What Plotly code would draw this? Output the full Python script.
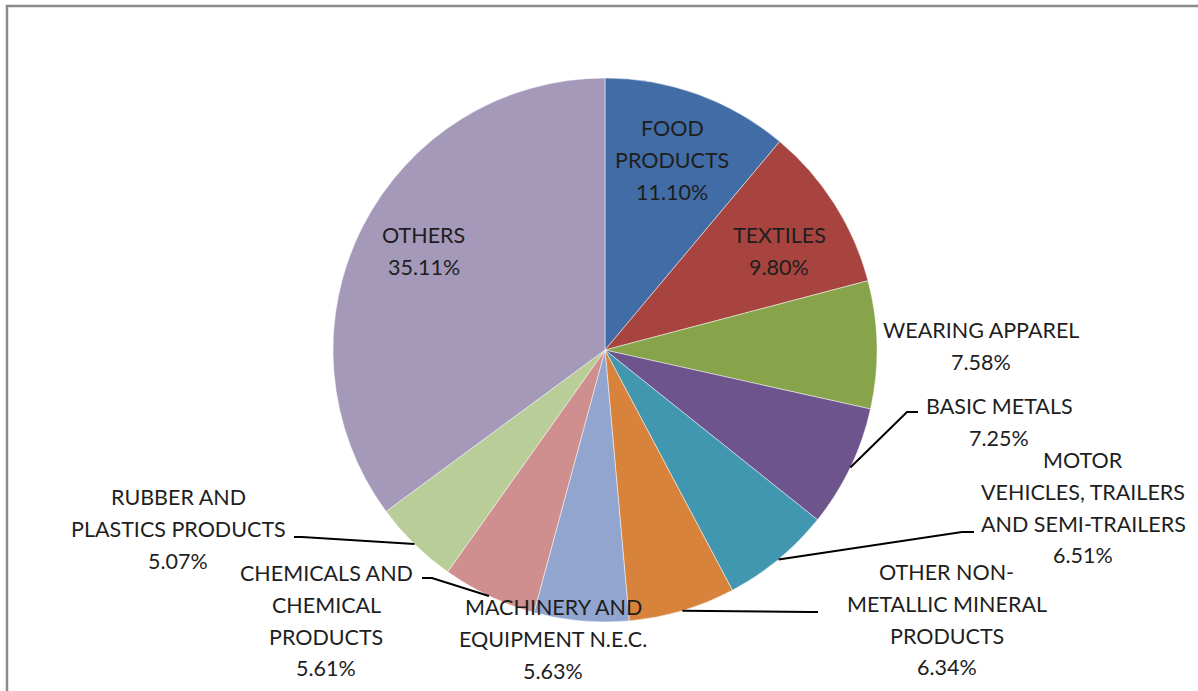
import math
import plotly.graph_objects as go

# ---- data ----
categories = [
    "FOOD PRODUCTS", "TEXTILES", "WEARING APPAREL", "BASIC METALS",
    "MOTOR VEHICLES, TRAILERS AND SEMI-TRAILERS",
    "OTHER NON-METALLIC MINERAL PRODUCTS",
    "MACHINERY AND EQUIPMENT N.E.C.",
    "CHEMICALS AND CHEMICAL PRODUCTS",
    "RUBBER AND PLASTICS PRODUCTS", "OTHERS",
]
shares = [11.10, 9.80, 7.58, 7.25, 6.51, 6.34, 5.63, 5.61, 5.07, 35.11]
label_lines = [
    ["FOOD", "PRODUCTS"],
    ["TEXTILES"],
    ["WEARING APPAREL"],
    ["BASIC METALS"],
    ["MOTOR", "VEHICLES, TRAILERS", "AND SEMI-TRAILERS"],
    ["OTHER NON-", "METALLIC MINERAL", "PRODUCTS"],
    ["MACHINERY AND", "EQUIPMENT N.E.C."],
    ["CHEMICALS AND", "CHEMICAL", "PRODUCTS"],
    ["RUBBER AND", "PLASTICS PRODUCTS"],
    ["OTHERS"],
]
colors = ["#416CA6", "#A7443F", "#87A44B", "#6E548D", "#4197B0",
          "#D8833B", "#91A5CE", "#CE8F8E", "#B8CD97", "#A599BA"]

# ---- layout (pixels) ----
W, H = 1198, 691
CX, CY, R = 605, 350, 272
LINE_H = 31.8
# label block: (center x, first-line center y)
label_pos = [
    (672, 128), (779, 235), (981, 330), (999, 406), (1083, 460),
    (947, 572), (553, 607), (326, 573), (178, 497), (424, 235),
]
# leader lines: pixel points from label side (pie-edge point is added from data)
leaders = {
    3: [(918, 412), (907, 412)],
    4: [(974, 532), (962, 532)],
    5: [(818, 612), (810, 612)],
    7: [(422, 578), (432, 578)],
    8: [(294, 537), (302, 537)],
}


def px(x):
    return x / W


def py(y):
    return 1 - y / H


fig = go.Figure(go.Pie(
    labels=categories,
    values=shares,
    sort=False,
    direction="clockwise",
    rotation=0,
    marker=dict(colors=colors, line=dict(color="rgba(255,255,255,0.6)", width=0.8)),
    textinfo="none",
    hoverinfo="label+percent",
    showlegend=False,
    domain=dict(x=[px(CX - R), px(CX + R)], y=[py(CY + R), py(CY - R)]),
))

font = dict(family="Lato, Carlito, Calibri, sans-serif", size=21.5, color="#1e1e1e")
annotations = []
total = sum(shares)
for i, lines in enumerate(label_lines):
    all_lines = lines + [f"{shares[i]:.2f}%"]
    x0, y0 = label_pos[i]
    for k, t in enumerate(all_lines):
        annotations.append(dict(
            x=px(x0), y=py(y0 + k * LINE_H), xref="paper", yref="paper",
            text=t, showarrow=False, xanchor="center", yanchor="middle",
            font=font,
        ))

shapes = []
cum = 0.0
for i, v in enumerate(shares):
    mid = (cum + v / 2) / total * 2 * math.pi
    cum += v
    if i in leaders:
        ex = CX + R * math.sin(mid)
        ey = CY - R * math.cos(mid)
        pts = leaders[i] + [(ex, ey)]
        path = "M " + " L ".join(f"{px(a):.5f},{py(b):.5f}" for a, b in pts)
        shapes.append(dict(type="path", path=path, xref="paper", yref="paper",
                           line=dict(color="#000000", width=2)))

# outer frame
shapes.append(dict(type="rect", xref="paper", yref="paper",
                   x0=px(7), x1=px(W + 10), y0=py(H + 10), y1=py(6),
                   line=dict(color="#8a8a8a", width=2.5), layer="below"))

fig.update_layout(
    width=W, height=H,
    margin=dict(l=0, r=0, t=0, b=0),
    paper_bgcolor="white", plot_bgcolor="white",
    annotations=annotations, shapes=shapes,
)

fig.write_html("out.html",
               config={"displayModeBar": False},
               post_script="document.body.style.margin='0';document.body.style.overflow='hidden';")
